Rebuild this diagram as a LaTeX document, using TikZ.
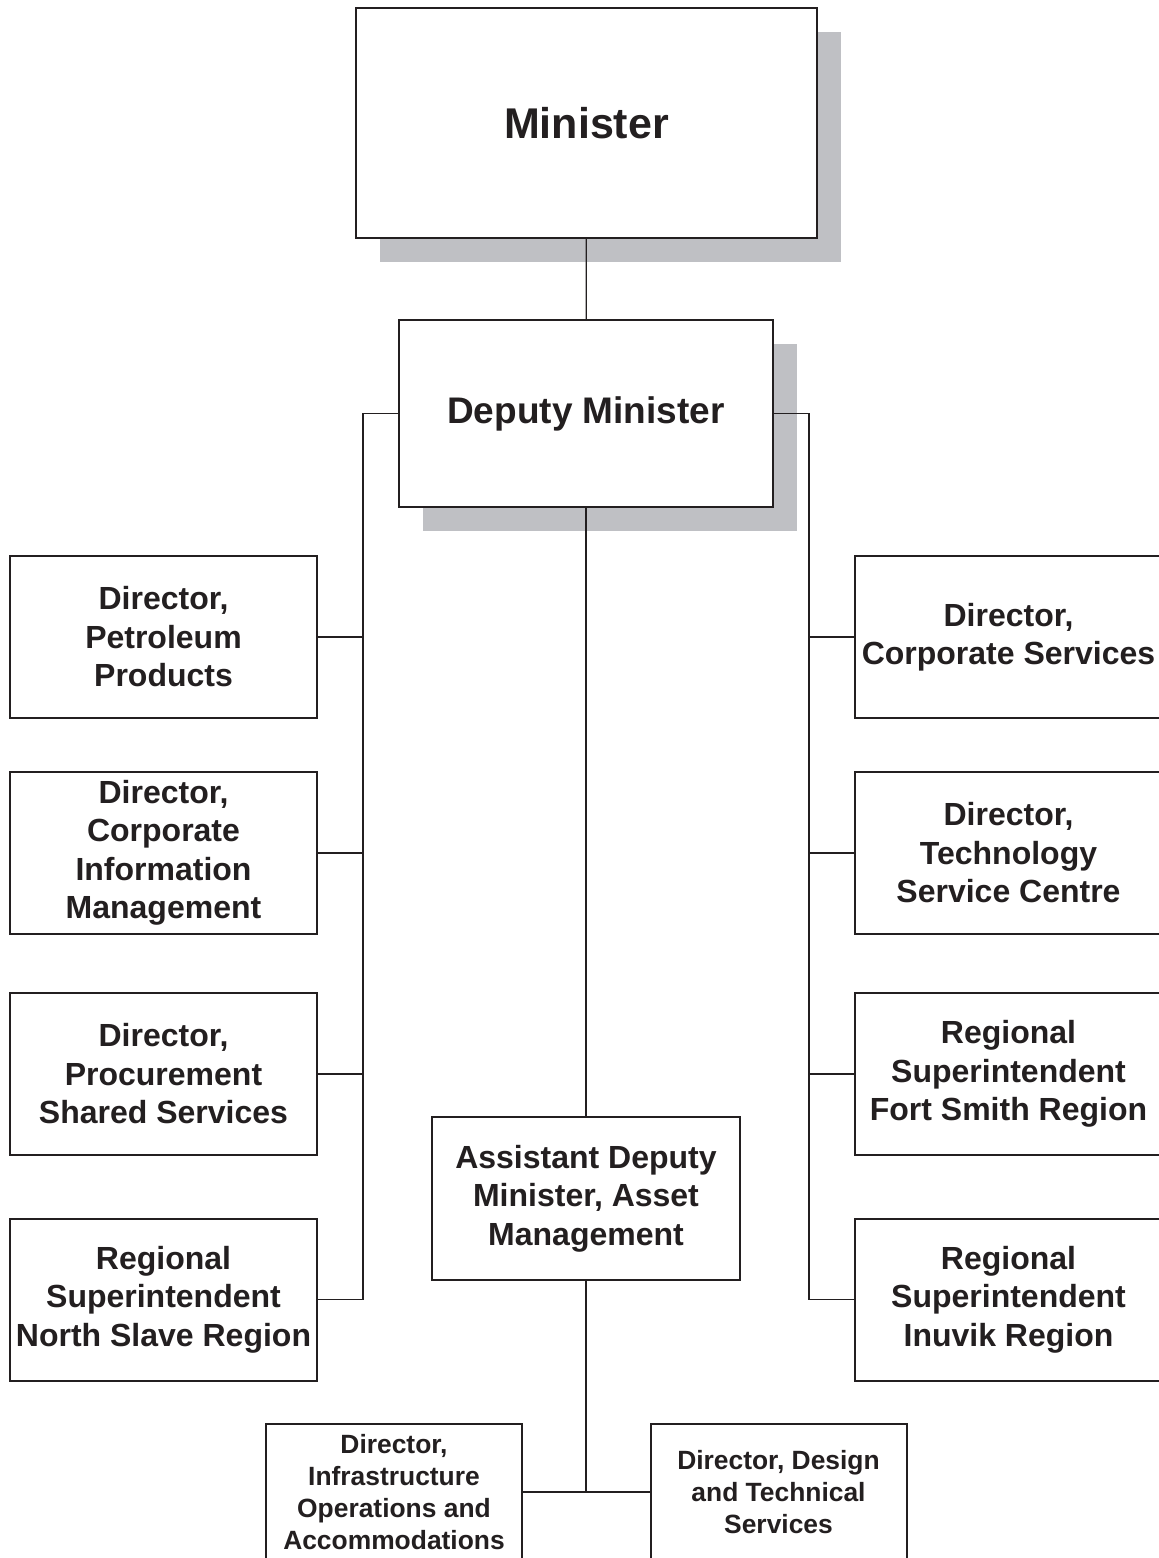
\documentclass[tikz,border=0pt]{standalone}
\usepackage{fontspec}
\setmainfont{Liberation Sans}
\usepackage{xcolor}
\usetikzlibrary{positioning,shadows}
\definecolor{shadowgray}{RGB}{191,192,196}
\definecolor{inkblack}{RGB}{35,31,32}
\tikzset{
  post/.style    = {rectangle, draw=inkblack, line width=1pt, fill=white, text=inkblack,
                    align=center, font=\bfseries\fontsize{16}{19.25}\selectfont, inner sep=2pt},
  side/.style    = {post, minimum width=153.5pt, minimum height=81pt},
  small/.style   = {post, minimum width=128pt, minimum height=68pt,
                    font=\bfseries\fontsize{13.2}{16}\selectfont},
  shadowed/.style= {post, drop shadow={shadow xshift=12pt, shadow yshift=-12pt,
                    fill=shadowgray, opacity=1}},
  link/.style    = {draw=inkblack, line width=0.6pt},
}

\begin{document}
\begin{tikzpicture}[x=0.5pt, y=-0.5pt]
  \useasboundingbox (0,0) rectangle (1159,1558);
  \clip (0,0) rectangle (1159,1558);

  % top of the chart
  \node[shadowed, minimum width=230.5pt, minimum height=115pt,
        font=\bfseries\fontsize{21.5}{25}\selectfont] (min) at (586.5,123) {Minister};
  \node[shadowed, minimum width=187pt, minimum height=93.5pt,
        font=\bfseries\fontsize{18.5}{22}\selectfont] (dm) at (586,413.5) {Deputy Minister};

  % left column
  \node[side] (l1) at (163.5,637)    {Director,\\ Petroleum\\ Products};
  \node[side] (l2) at (163.5,853)    {Director,\\ Corporate\\ Information\\ Management};
  \node[side] (l3) at (163.5,1074)   {Director,\\ Procurement\\ Shared Services};
  \node[side] (l4) at (163.5,1299.5) {Regional\\ Superintendent\\ North Slave Region};

  % right column
  \node[side] (r1) at (1008.5,637)    {Director,\\ Corporate Services};
  \node[side] (r2) at (1008.5,853)    {Director,\\ Technology\\ Service Centre};
  \node[side] (r3) at (1008.5,1074)   {Regional\\ Superintendent\\ Fort Smith Region};
  \node[side] (r4) at (1008.5,1299.5) {Regional\\ Superintendent\\ Inuvik Region};

  % assistant deputy minister and below
  \node[post, minimum width=154pt, minimum height=81.5pt] (adm) at (586,1198.5)
       {Assistant Deputy\\ Minister, Asset\\ Management};
  \node[small] (b1) at (394,1492)   {Director,\\ Infrastructure\\ Operations and\\ Accommodations};
  \node[small] (b2) at (778.5,1492) {Director, Design\\ and Technical\\ Services};

  \coordinate (lspine) at (363,413.5);
  \coordinate (rspine) at (809,413.5);
  \coordinate (bjoin)  at (586,1492);

  \draw[link] (min) -- (dm);
  \draw[link] (dm.west) -- (lspine) |- (l4.east);
  \draw[link] (dm.east) -- (rspine) |- (r4.west);
  \foreach \n in {l1,l2,l3} {
    \draw[link] (\n.east) -- (\n.east -| lspine);
  }
  \foreach \n in {r1,r2,r3} {
    \draw[link] (\n.west) -- (\n.west -| rspine);
  }
  \draw[link] (dm) -- (adm);
  \draw[link] (adm) -- (bjoin);
  \draw[link] (b1.east) -- (b2.west);

\end{tikzpicture}
\end{document}
